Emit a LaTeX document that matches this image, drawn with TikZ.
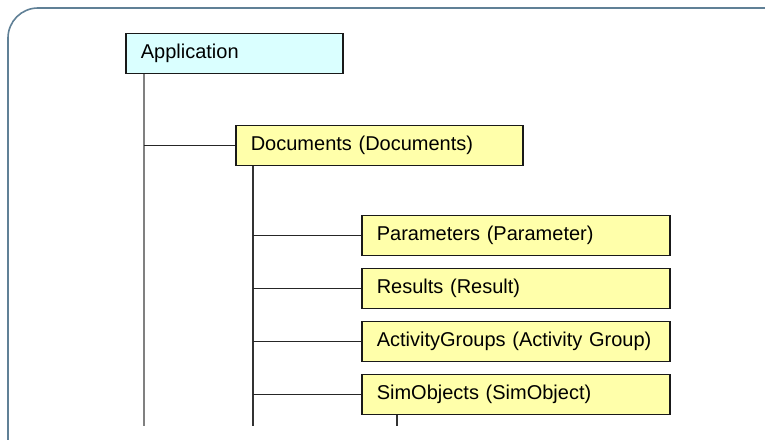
\documentclass[tikz,border=0pt]{standalone}
\usepackage{fontspec}
\setmainfont{Liberation Sans}
\usepackage{tikz}
\usetikzlibrary{positioning,calc}
\definecolor{FrameBlue}{RGB}{96,128,150}
\definecolor{AppCyan}{RGB}{218,255,255}
\definecolor{ColYellow}{RGB}{255,255,170}
\newcommand{\branch}[2]{%
    \draw[black!85,line width=1.6pt] (#1 |- #2.west)--(#2.west);
}

\begin{document}
\begin{tikzpicture}[x=1pt,y=-1pt,
    objbox/.style={draw=black!90,line width=1.6pt,rectangle,anchor=west,
        minimum height=40pt,inner xsep=15pt,align=left,
        font=\fontsize{20}{23}\selectfont},
    trunk/.style={line width=2.4pt,black!50},
    subtrunk/.style={line width=1.8pt,black!80}]
            \useasboundingbox (0,0) rectangle (765,439);
            \clip (0,0) rectangle (765,439);
            \draw[FrameBlue,line width=1.6pt,rounded corners=30pt] (8,8) rectangle (820,480);
            % tree
            \node[objbox,fill=AppCyan,text width=187pt] (app) at (125,53.5) {Application};
            \node[objbox,fill=ColYellow,text width=257pt] (docs) at (235,145.5) {Documents (Documents)};
            \node[objbox,fill=ColYellow,text width=278pt] (params) at (361,235.5) {Parameters (Parameter)};
            \node[objbox,fill=ColYellow,text width=278pt] (results) at (361,288.5) {Results (Result)};
            \node[objbox,fill=ColYellow,text width=278pt] (groups) at (361,341.5) {ActivityGroups (Activity Group)};
            \node[objbox,fill=ColYellow,text width=278pt] (simobj) at (361,394.5) {SimObjects (SimObject)};
            \coordinate (append) at (144,426);
            \coordinate (docend) at (253,426);
            \coordinate (simend) at (397,426);
            \draw[trunk] (app.south -| append)--(append);
            \draw[subtrunk] (docs.south -| docend)--(docend);
            \draw[subtrunk] (simobj.south -| simend)--(simend);
            \branch{append}{docs}
            \branch{docend}{params}
            \branch{docend}{results}
            \branch{docend}{groups}
            \branch{docend}{simobj}
        \end{tikzpicture}
\end{document}
